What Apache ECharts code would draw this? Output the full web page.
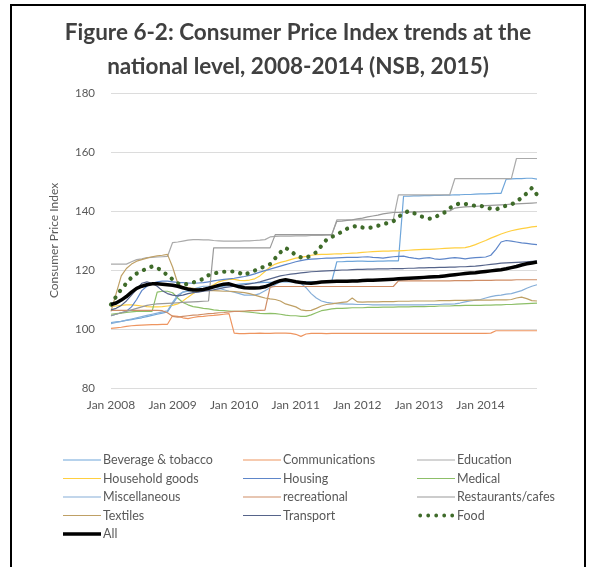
<!DOCTYPE html>
<html><head><meta charset="utf-8">
<script src="https://cdn.jsdelivr.net/npm/echarts@6/dist/echarts.min.js"></script>
<style>html,body{margin:0;padding:0;background:#fff}#c{width:596px;height:567px}</style>
</head><body><div id="c"></div>
<script>
var monthNames = ['Jan','Feb','Mar','Apr','May','Jun','Jul','Aug','Sep','Oct','Nov','Dec'];
var years = [2008,2009,2010,2011,2012,2013,2014];
var yTicks = [80,100,120,140,160,180];

var beverage = [
102.2,102.4,102.6,102.9,103.2,103.5,103.8,104.2,104.6,105.0,105.4,105.8,
108.5,111.0,112.5,112.8,113.0,113.2,113.5,113.8,114.0,114.2,114.5,114.8,
115.0,115.2,115.4,115.5,115.6,115.7,115.8,115.8,115.9,116.0,116.0,116.0,
116.0,116.0,116.0,116.0,116.0,116.0,116.0,116.1,122.8,122.8,122.9,122.9,
123.0,123.0,122.9,122.9,123.0,123.0,123.1,123.1,123.1,145.0,145.0,145.1,
145.1,145.2,145.2,145.3,145.3,145.4,145.4,145.5,145.5,145.6,145.6,145.7,
145.8,145.8,145.9,146.0,146.0,150.8,150.9,151.0,151.0,151.1,151.1,150.8];
var communications = [
100.2,100.4,100.6,100.9,101.1,101.2,101.3,101.4,101.5,101.5,101.6,101.6,
104.5,104.3,103.8,103.5,103.9,104.2,104.3,104.5,104.6,104.8,105.0,105.2,
98.6,98.4,98.4,98.5,98.5,98.6,98.5,98.5,98.6,98.6,98.6,98.5,
98.2,97.5,98.3,98.5,98.5,98.5,98.4,98.5,98.5,98.5,98.5,98.5,
98.5,98.5,98.5,98.5,98.5,98.5,98.5,98.5,98.5,98.5,98.5,98.5,
98.5,98.5,98.5,98.5,98.5,98.5,98.5,98.5,98.5,98.5,98.5,98.5,
98.5,98.5,98.6,99.4,99.4,99.4,99.4,99.4,99.4,99.4,99.4,99.4];
var education = [
122.0,122.0,122.0,122.0,122.8,123.5,123.8,124.2,124.3,124.4,124.5,124.6,
129.3,129.5,129.8,130.1,130.3,130.3,130.2,130.2,130.0,129.9,129.8,129.8,
129.8,129.8,129.9,129.9,130.0,130.1,130.3,131.2,131.4,131.5,131.5,131.5,
131.6,131.6,131.6,131.7,131.7,131.7,131.8,131.8,137.0,137.0,137.0,137.0,
137.0,137.0,137.1,137.1,137.1,137.1,137.1,137.1,145.5,145.5,145.5,145.5,
145.5,145.5,145.5,145.5,145.5,145.5,145.5,151.0,151.0,151.0,151.0,151.0,
151.0,151.0,151.0,151.0,151.0,151.0,151.0,157.8,157.8,157.8,157.8,157.8];
var household = [
107.6,107.8,108.0,108.2,108.2,108.0,107.8,107.6,107.5,107.5,107.6,107.8,
108.0,108.5,109.5,110.8,112.0,113.0,113.5,114.0,115.0,116.0,116.5,116.8,
116.8,116.5,116.4,116.6,117.0,118.0,119.5,121.0,122.0,122.6,123.0,123.5,
124.0,124.3,124.6,125.0,125.2,125.3,125.3,125.4,125.5,125.5,125.6,125.7,
125.8,126.0,126.1,126.2,126.3,126.4,126.4,126.5,126.5,126.6,126.7,126.8,
126.9,127.0,127.0,127.1,127.2,127.3,127.4,127.5,127.5,127.6,128.0,128.6,
129.3,130.0,130.8,131.5,132.2,132.8,133.3,133.7,134.0,134.3,134.6,134.8];
var housing = [
104.5,105.0,105.5,106.0,107.5,110.0,113.0,114.5,115.5,116.0,116.2,116.2,
116.0,115.8,115.7,115.6,115.5,115.6,115.7,116.0,116.3,116.6,116.8,117.0,
117.2,117.5,117.8,118.2,118.7,119.3,119.8,120.3,120.8,121.3,121.8,122.3,
122.8,123.2,123.5,123.7,123.8,123.9,124.0,124.0,124.1,124.2,124.3,124.3,
124.3,124.4,124.5,124.3,124.2,124.0,124.3,124.5,124.6,124.7,124.3,124.0,
123.8,124.0,124.2,123.8,123.6,123.8,124.0,124.2,124.0,123.8,124.0,124.2,
124.3,124.4,125.0,127.0,129.5,130.0,129.8,129.5,129.2,129.0,128.8,128.6];
var medical = [
105.0,105.2,105.4,105.6,105.8,106.0,106.0,106.0,106.0,112.5,112.8,112.8,
112.3,110.5,109.0,108.2,107.6,107.3,107.0,106.8,106.5,106.3,106.2,106.1,
106.0,106.0,105.9,105.7,105.5,105.3,105.2,105.3,105.2,105.0,104.7,104.5,
104.5,104.3,104.3,104.8,105.5,106.2,106.5,106.8,107.0,107.0,107.1,107.2,
107.2,107.2,107.3,107.3,107.3,107.4,107.4,107.4,107.5,107.5,107.5,107.6,
107.6,107.6,107.7,107.7,107.8,107.8,107.8,107.9,107.9,108.0,108.0,108.0,
108.0,108.1,108.1,108.2,108.2,108.3,108.3,108.4,108.5,108.6,108.7,108.8];
var miscellaneous = [
101.8,102.2,102.6,103.0,103.4,103.8,104.2,104.6,105.0,105.4,105.8,106.2,
109.0,111.5,112.5,113.0,113.5,114.0,114.5,114.5,114.3,113.8,113.3,112.8,
112.5,112.0,111.5,111.5,111.5,112.0,113.0,114.0,115.0,116.0,116.5,116.5,
116.3,115.5,114.0,112.0,110.5,109.5,109.0,108.8,108.6,108.5,108.4,108.4,
108.3,108.3,108.3,108.2,108.2,108.2,108.2,108.2,108.2,108.2,108.2,108.2,
108.2,108.2,108.3,108.3,108.3,108.4,108.4,108.5,108.8,109.2,109.5,109.8,
110.0,110.5,111.0,111.3,111.5,111.8,112.0,112.5,113.0,113.8,114.5,115.0];
var recreational = [
106.3,106.3,106.3,106.3,106.3,106.3,106.3,106.3,106.3,106.3,106.2,105.5,
104.3,104.0,104.3,104.5,104.7,104.8,105.0,105.2,105.3,105.5,105.6,105.8,
106.0,106.0,106.1,106.2,106.2,106.3,106.4,114.2,114.4,114.4,114.4,114.4,
114.4,114.4,114.4,114.4,114.4,114.4,114.4,114.4,114.4,114.4,114.4,114.4,
114.4,114.4,114.4,114.4,114.4,114.4,114.4,114.4,116.3,116.3,116.3,116.3,
116.3,116.3,116.3,116.3,116.3,116.3,116.3,116.4,116.4,116.4,116.4,116.5,
116.5,116.5,116.5,116.6,116.6,116.6,116.6,116.7,116.7,116.7,116.7,116.7];
var restaurants = [
104.5,105.0,105.5,106.0,106.5,107.0,107.5,108.0,108.3,108.5,108.6,108.7,
108.8,108.9,109.0,109.1,109.2,109.3,109.4,109.5,127.5,127.5,127.5,127.5,
127.5,127.5,127.5,127.5,127.5,127.5,127.5,127.5,132.0,132.0,132.0,132.0,
132.0,132.0,132.0,132.0,132.0,132.0,132.0,132.0,136.5,136.6,136.8,137.0,
137.3,137.6,138.0,138.3,138.6,139.0,139.3,139.5,139.5,139.6,139.6,139.7,
139.7,139.8,139.8,139.9,139.9,140.0,140.0,141.0,141.2,141.4,141.5,141.6,
141.7,141.8,141.9,142.0,142.1,142.2,142.3,142.4,142.5,142.6,142.7,142.8];
var textiles = [
106.0,112.0,118.0,120.5,122.0,123.0,123.5,124.0,124.5,124.8,125.0,125.3,
121.0,115.5,114.2,114.0,113.8,113.5,113.3,113.0,113.0,112.9,112.8,112.8,
112.7,112.5,112.3,112.0,111.5,111.0,110.5,110.2,110.0,109.5,108.5,108.0,
107.5,106.5,106.2,106.3,107.0,107.8,108.3,108.5,108.8,109.0,109.2,110.5,
109.2,109.1,109.2,109.2,109.2,109.3,109.3,109.3,109.4,109.4,109.4,109.5,
109.5,109.5,109.5,109.5,109.6,109.6,109.6,109.7,109.7,109.7,109.8,109.8,
109.8,109.8,109.8,109.9,109.9,109.9,110.0,110.5,110.8,110.3,109.6,109.5];
var transport = [
106.5,107.0,108.0,109.5,111.5,113.5,115.5,116.0,115.5,114.5,113.0,112.0,
111.5,111.2,111.5,112.0,112.3,112.5,112.8,113.0,113.3,113.6,114.0,114.3,
114.5,114.8,115.0,115.3,115.6,116.0,116.5,117.0,117.5,118.0,118.3,118.6,
118.8,119.0,119.2,119.4,119.5,119.6,119.7,119.8,119.9,120.0,120.0,120.1,
120.2,120.2,120.3,120.3,120.4,120.4,120.4,120.5,120.5,120.5,120.6,120.6,
120.7,120.7,120.8,120.8,120.9,120.9,121.0,121.0,121.1,121.1,121.2,121.3,
121.5,121.7,121.9,122.1,122.3,122.4,122.5,122.6,122.7,122.8,122.9,123.0];
var food = [
108.3,111.0,113.5,115.5,117.5,118.8,119.7,120.5,121.2,120.8,119.5,118.3,
116.8,115.5,115.0,115.3,115.8,116.3,117.0,118.2,118.8,119.2,119.4,119.5,
119.5,119.0,118.3,119.2,119.8,120.6,121.2,122.0,124.0,126.0,127.5,126.5,
125.0,124.3,124.1,125.0,126.0,128.2,130.3,131.2,132.0,133.0,134.0,134.6,
135.0,134.4,134.2,134.5,135.0,135.5,136.0,136.5,138.0,139.2,140.0,139.3,
138.5,137.8,137.4,137.6,138.8,139.5,141.0,142.0,142.6,142.4,142.0,141.8,
141.8,141.2,140.8,140.5,141.3,141.8,142.2,143.2,144.5,146.0,147.8,145.5];
var all = [
108.3,108.8,109.8,111.0,112.5,113.8,114.5,115.0,115.3,115.3,115.2,115.0,
114.8,114.5,114.0,113.5,113.2,113.2,113.4,113.8,114.3,114.8,115.2,115.3,
114.8,114.3,114.0,113.9,113.9,114.0,114.3,115.0,115.8,116.4,116.7,116.4,
116.0,115.8,115.6,115.5,115.7,115.9,116.0,116.1,116.2,116.2,116.2,116.3,
116.3,116.4,116.5,116.5,116.6,116.7,116.8,116.9,117.0,117.1,117.2,117.3,
117.4,117.5,117.6,117.7,117.8,118.0,118.2,118.4,118.6,118.8,119.0,119.1,
119.3,119.5,119.7,119.9,120.1,120.4,120.8,121.2,121.7,122.1,122.4,122.7];

var categories = [];
years.forEach(function(y){ monthNames.forEach(function(m){ categories.push(m + ' ' + y); }); });

var FONT = 'Lato';
var TXT = '#595959';
// legend icon paths (bounding box 38x14, tiny corner points keep the box)
var BOX = 'M0,0L0.01,0L0.01,0.01Z M38,14L37.99,14L37.99,13.99Z ';
var ICON_THIN = 'path://' + BOX + 'M0,6.4L38,6.4L38,7.6L0,7.6Z';
var ICON_ALL = 'path://' + BOX + 'M0,5.3L38,5.3L38,8.7L0,8.7Z';
var ICON_DOTS = 'path://' + BOX +
  'M1.3,7a1.9,1.9 0 1,0 3.8,0a1.9,1.9 0 1,0 -3.8,0Z' +
  'M9.3,7a1.9,1.9 0 1,0 3.8,0a1.9,1.9 0 1,0 -3.8,0Z' +
  'M17.3,7a1.9,1.9 0 1,0 3.8,0a1.9,1.9 0 1,0 -3.8,0Z' +
  'M25.3,7a1.9,1.9 0 1,0 3.8,0a1.9,1.9 0 1,0 -3.8,0Z' +
  'M33.3,7a1.9,1.9 0 1,0 3.8,0a1.9,1.9 0 1,0 -3.8,0Z';

function thin(name, data, color) {
  return { name: name, type: 'line', data: data, symbol: 'none', showSymbol: false,
    lineStyle: { color: color, width: 1.2 }, itemStyle: { color: color }, z: 2 };
}
var series = [
  thin('Beverage & tobacco', beverage, '#6FA6DA'),
  thin('Communications', communications, '#EE9560'),
  thin('Education', education, '#AAAAAA'),
  thin('Household goods', household, '#FFCF40'),
  thin('Housing', housing, '#5E86C9'),
  thin('Medical', medical, '#8DBF68'),
  thin('Miscellaneous', miscellaneous, '#86AED8'),
  thin('recreational', recreational, '#CF8D66'),
  thin('Restaurants/cafes', restaurants, '#9A9A9A'),
  thin('Textiles', textiles, '#BFA065'),
  thin('Transport', transport, '#56648A'),
  { name: 'Food', type: 'line', data: food, symbol: 'none', showSymbol: false, z: 4,
    lineStyle: { color: '#3F6B2A', width: 4.2, type: [0.1, 8], cap: 'round' },
    itemStyle: { color: '#3F6B2A' } },
  { name: 'All', type: 'line', data: all, symbol: 'none', showSymbol: false, z: 5,
    lineStyle: { color: '#000000', width: 3.5 }, itemStyle: { color: '#000000' } }
];

function iconFor(n) { return n === 'All' ? ICON_ALL : (n === 'Food' ? ICON_DOTS : ICON_THIN); }
function legendCol(left, names) {
  return { orient: 'vertical', left: left, top: 448, itemGap: 4.5, itemWidth: 38, itemHeight: 14,
    selectedMode: false,
    data: names.map(function(n){ return { name: n, icon: iconFor(n) }; }),
    itemStyle: { borderWidth: 0 },
    textStyle: { fontFamily: FONT, fontSize: 12.5, color: TXT, padding: [0,0,0,-3] } };
}

var chart = echarts.init(document.getElementById('c'), null, { renderer: 'canvas' });
chart.setOption({
  animation: false,
  backgroundColor: '#ffffff',
  title: {
    text: 'Figure 6-2: Consumer Price Index trends at the\nnational level, 2008-2014 (NSB, 2015)',
    left: 'center', top: 11,
    textStyle: { fontFamily: FONT, fontWeight: 'bold', fontSize: 22.5, lineHeight: 34, color: '#404040' }
  },
  graphic: [{ type: 'rect', shape: { x: 11, y: 5, width: 574, height: 620 },
    style: { fill: 'none', stroke: '#000000', lineWidth: 2 }, silent: true }],
  grid: { left: 111, top: 93, width: 426, height: 295 },
  xAxis: {
    type: 'category', data: categories, boundaryGap: false,
    axisLine: { show: false }, axisTick: { show: false },
    axisLabel: { interval: 11, margin: 11, fontFamily: FONT, fontSize: 12, color: TXT },
    splitLine: { show: false }
  },
  yAxis: {
    type: 'value', min: yTicks[0], max: yTicks[yTicks.length - 1], interval: 20,
    name: 'Consumer Price Index', nameLocation: 'middle', nameGap: 51, nameRotate: 90,
    nameTextStyle: { fontFamily: FONT, fontSize: 12, color: TXT },
    axisLine: { show: false }, axisTick: { show: false },
    axisLabel: { margin: 16, fontFamily: FONT, fontSize: 11.5, color: TXT },
    splitLine: { lineStyle: { color: '#DCDCDC', width: 1 } }
  },
  legend: [
    legendCol(58, ['Beverage & tobacco', 'Household goods', 'Miscellaneous', 'Textiles', 'All']),
    legendCol(238, ['Communications', 'Housing', 'recreational', 'Transport']),
    legendCol(412, ['Education', 'Medical', 'Restaurants/cafes', 'Food'])
  ],
  series: series
});
</script></body></html>
